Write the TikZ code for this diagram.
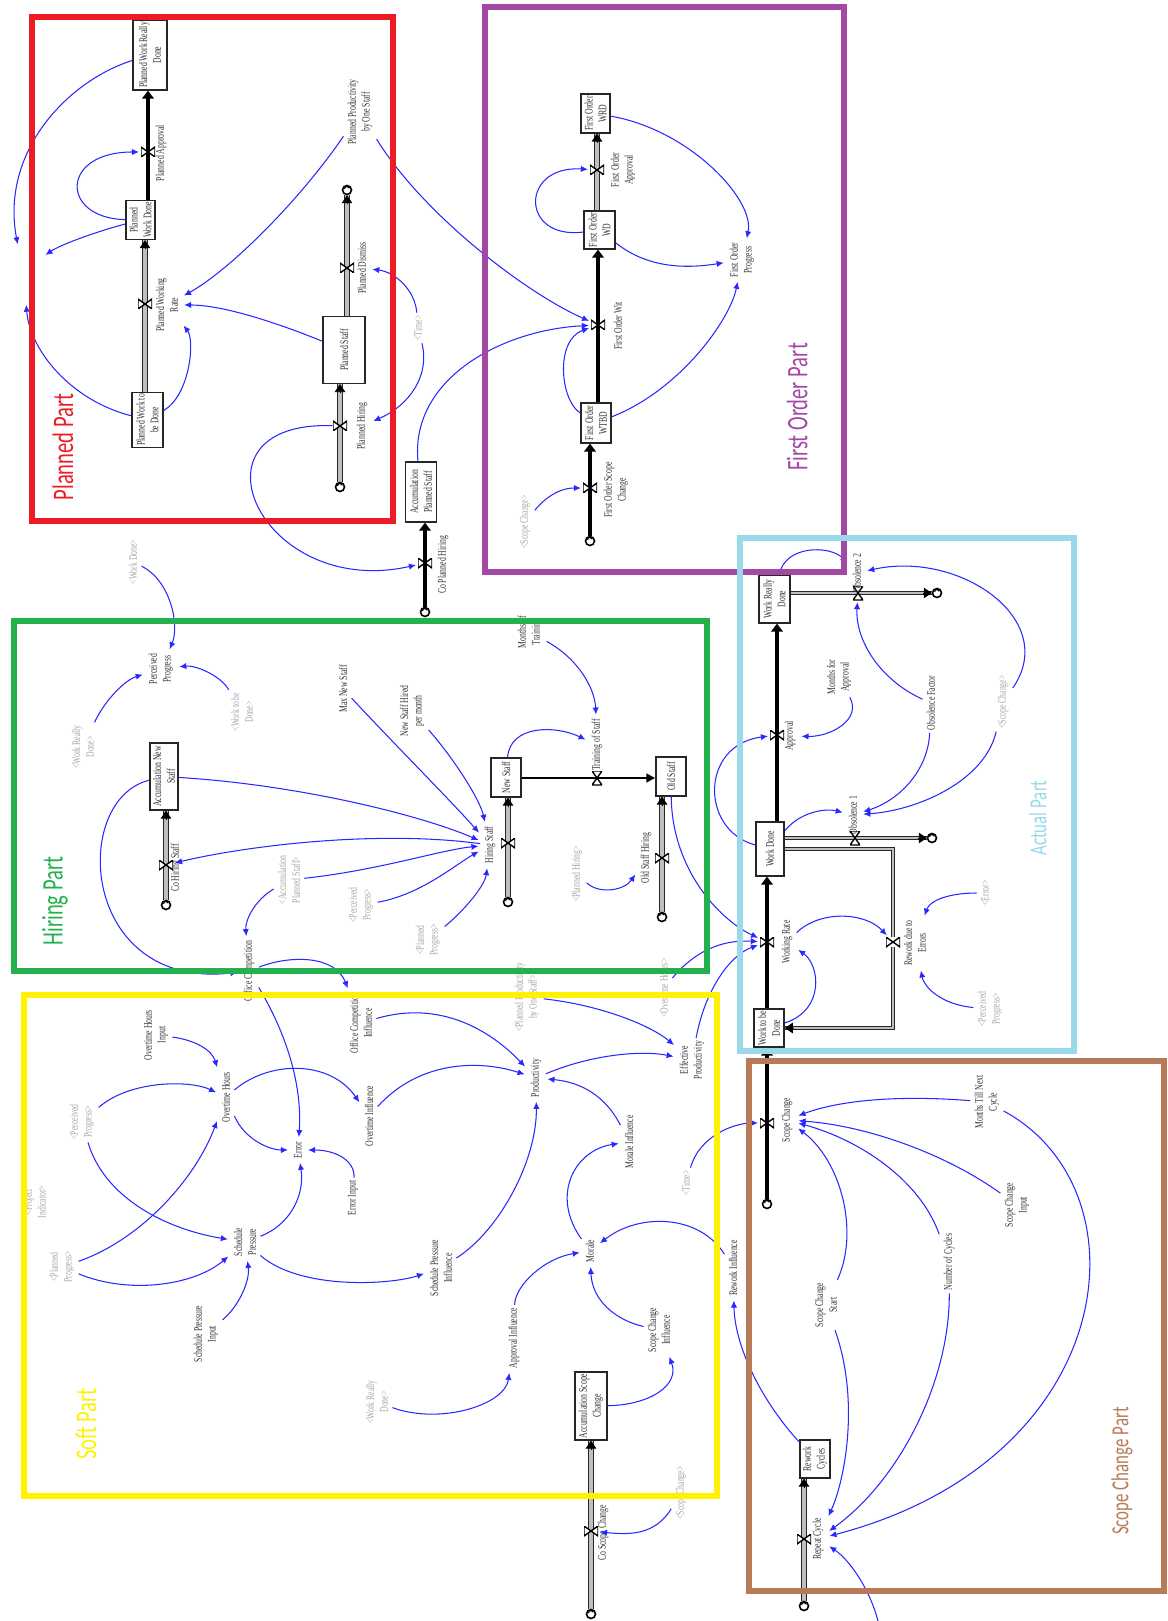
\documentclass[tikz,border=0pt]{standalone}
\usepackage{fontspec}
\setmainfont{Liberation Serif}
\newfontfamily\partfont{Carlito}
\usetikzlibrary{arrows.meta,calc,backgrounds}

\definecolor{cRed}{RGB}{237,28,36}
\definecolor{cPurple}{RGB}{163,73,164}
\definecolor{cCyan}{RGB}{153,217,234}
\definecolor{cGreen}{RGB}{34,177,76}
\definecolor{cYellow}{RGB}{255,242,0}
\definecolor{cBrown}{RGB}{185,122,87}
\definecolor{linkblue}{RGB}{40,40,255}

\tikzset{
  lbl/.style={rotate=90, yscale=1.5, align=center, inner sep=1.5pt, text=black!80,
    font=\fontsize{4.4}{5.2}\selectfont},
  shadow/.style={lbl, text=black!35},
  stock/.style={lbl, draw=black!85, line width=0.7pt, fill=white, inner sep=1pt},
  boxsz/.style 2 args={minimum width=#1*0.02cm, minimum height=#2*0.02cm/1.5},
  valve/.style={minimum width=14*0.02cm, minimum height=10*0.02cm, inner sep=0pt,
    path picture={\draw[black, line width=0.8pt, fill=white]
      (path picture bounding box.south west) -- (path picture bounding box.north east)
      -- (path picture bounding box.south east) -- (path picture bounding box.north west) -- cycle;}},
  hvalve/.style={minimum width=10*0.02cm, minimum height=14*0.02cm, inner sep=0pt,
    path picture={\draw[black, line width=0.8pt, fill=white]
      (path picture bounding box.south west) -- (path picture bounding box.north east)
      -- (path picture bounding box.north west) -- (path picture bounding box.south east) -- cycle;}},
  cloudsym/.style={circle, draw=black, line width=0.9pt, fill=white, minimum size=9*0.02cm, inner sep=0pt,
    path picture={\draw[black, line width=0.6pt]
      (path picture bounding box.center) ++(-0.05cm,0.02cm) arc (180:20:0.05cm);}},
  gpipe/.style={draw=black!85, line width=0.8pt, double=gray!50, double distance=2.2pt},
  hpipe/.style={draw=black!85, line width=0.6pt, double=gray!50, double distance=1.5pt},
  bpipe/.style={draw=black, line width=2.4pt, -{Triangle[width=6.5pt,length=4.5pt]}},
  hbpipe/.style={draw=black, line width=1.6pt, -{Triangle[width=5pt,length=5pt]}},
  ftip/.style={draw=black, line width=0.4pt, -{Triangle[width=6pt,length=4.5pt]}},
  link/.style={draw=linkblue, line width=0.6pt, shorten >=1pt, -{Latex[length=4pt,width=3.6pt]}},
  grp/.style={line width=6*0.02cm},
  part/.style={rotate=90, yscale=1.45, inner sep=0pt, font=\partfont\fontsize{#1}{14}\selectfont},
  part/.default=11.7
}

\begin{document}
\begin{tikzpicture}[x=0.02cm, y=-0.02cm]
\useasboundingbox (0,0) rectangle (1167,1621);

% Planned Part
\node[stock, boxsz={70}{34}] (pwrd) at (150,55) {Planned Work Really\\Done};
\node[stock, boxsz={38}{29}] (pwd) at (140.5,220) {Planned\\Work Done};
\node[stock, boxsz={55}{31}] (pwtbd) at (147.5,420) {Planned Work to\\be Done};
\node[stock, boxsz={67}{42}] (pstaff) at (344,350) {Planned Staff};
\node[stock, boxsz={60}{31}] (aps) at (421,492) {Accumulation\\Planned Staff};
\node[valve] (vpa) at (148,152) {};
\node[valve] (vpwr) at (145,304) {};
\node[valve] (vpd) at (347,268) {};
\node[valve] (vph) at (340,426) {};
\node[valve] (vcph) at (425,563) {};
\node[cloudsym] (cpd) at (347,190) {};
\node[cloudsym] (cph) at (340,487) {};
\node[cloudsym] (ccph) at (425,612) {};
\node[lbl] (lpa) at (161,153) {Planned Approval};
\node[lbl] (lpwr) at (167,305) {Planned Working\\Rate};
\node[lbl] (lpd) at (362,268) {Planned Dismiss};
\node[lbl] (lph) at (362,426) {Planned Hiring};
\node[lbl] (lcph) at (443,565) {Co Planned Hiring};
\node[lbl] (ppos) at (360,112) {Planned Productivity\\by One Staff};
\node[shadow] (stime1) at (418,328) {<Time>};
\coordinate (hidA) at (18,246);
\coordinate (hidB) at (44,256);
\coordinate (hidC) at (26,303);

% First Order Part
\node[stock, boxsz={39}{29}] (fowrd) at (595.5,113.5) {First Order\\WRD};
\node[stock, boxsz={38}{31}] (fowd) at (599.5,230) {First Order\\WD};
\node[stock, boxsz={40}{30}] (fowtbd) at (596,423) {First Order\\WTBD};
\node[valve] (vfoa) at (597,170) {};
\node[valve] (vfow) at (598,325) {};
\node[valve] (vfosc) at (590,488) {};
\node[cloudsym] (cfosc) at (590,541) {};
\node[lbl] (lfoa) at (623,170) {First Order\\Approval};
\node[lbl] (lfow) at (618,326) {First Order Wit};
\node[lbl] (lfosc) at (616,490) {First Order Scope\\Change};
\node[lbl] (fop) at (742,260) {First Order\\Progress};
\node[shadow] (ssc1) at (525,522) {<Scope Change>};

% Hiring Part
\node[stock, boxsz={67}{28}] (ans) at (164,776.5) {Accumulation New\\Staff};
\node[stock, boxsz={39}{30}] (nstaff) at (506,777.5) {New Staff};
\node[stock, boxsz={39}{30}] (ostaff) at (671,776.5) {Old Staff};
\node[valve] (vchs) at (166,865) {};
\node[valve] (vhs) at (508,843) {};
\node[hvalve] (vts) at (597,778) {};
\node[valve] (vosh) at (662,858) {};
\node[cloudsym] (cchs) at (166,905) {};
\node[cloudsym] (chs) at (508,902) {};
\node[cloudsym] (cosh) at (662,917) {};
\node[lbl] (lchs) at (176,868) {Co Hiring Staff};
\node[lbl] (lhs) at (490,845) {Hiring Staff};
\node[lbl] (lts) at (597,745) {Training of Staff};
\node[lbl] (losh) at (646,858) {Old Staff Hiring};
\node[lbl] (pprog) at (161,669) {Perceived\\Progress};
\node[lbl] (mns) at (343,689) {Max New Staff};
\node[lbl] (nshm) at (412,711) {New Staff Hired\\per month};
\node[lbl] (mot) at (530,632) {Months of\\Training};
\node[shadow] (swd) at (133,562) {<Work Done>};
\node[shadow] (swrd1) at (83,747) {<Work Really\\Done>};
\node[shadow] (swtbd) at (242,712) {<Work to be\\Done>};
\node[shadow] (saps) at (289,880) {<Accumulation\\Planned Staff>};
\node[shadow] (spp1) at (361,905) {<Perceived\\Progress>};
\node[shadow] (splp1) at (428,940) {<Planned\\Progress>};
\node[shadow] (sph) at (577,874) {<Planned Hiring>};

% Actual Part
\node[stock, boxsz={48}{31}] (wrd) at (774.5,599) {Work Really\\Done};
\node[stock, boxsz={54}{28}] (wdone) at (770,849) {Work Done};
\node[stock, boxsz={38}{30}] (wtbd) at (769,1028) {Work to be\\Done};
\node[hvalve] (vob2) at (858,593) {};
\node[valve] (vappr) at (777,735) {};
\node[hvalve] (vob1) at (855,838) {};
\node[valve] (vrde) at (893,942) {};
\node[valve] (vwr) at (767,942) {};
\node[valve] (vsc) at (767,1123) {};
\node[cloudsym] (cob2) at (937,593) {};
\node[cloudsym] (cob1) at (932,838) {};
\node[cloudsym] (csc) at (767,1204) {};
\node[lbl] (lob2) at (857,573) {Obsolence 2};
\node[lbl] (lappr) at (790,736) {Approval};
\node[lbl] (lob1) at (853,815) {Obsolence 1};
\node[lbl] (lrde) at (915,943) {Rework due to\\Errors};
\node[lbl] (lwr) at (787,942) {Working Rate};
\node[lbl] (lsc) at (787,1120) {Scope Change};
\node[lbl] (mfa) at (839,677) {Months for\\Approval};
\node[lbl] (obf) at (931,703) {Obsolence Factor};
\node[shadow] (ssc2) at (1003,702) {<Scope Change>};
\node[shadow] (serr) at (985,893) {<Error>};
\node[shadow] (spp2) at (990,1009) {<Perceived\\Progress>};

% Soft Part
\node[lbl] (oc) at (249,971) {Office Competition};
\node[lbl] (oci) at (361,1023) {Office Competition\\Influence};
\node[lbl] (ohi) at (156,1035) {Overtime Hours\\Input};
\node[lbl] (oh) at (226,1097) {Overtime Hours};
\node[lbl] (oi) at (369,1116) {Overtime Influence};
\node[lbl] (err) at (298,1150) {Error};
\node[lbl] (erri) at (353,1198) {Error Input};
\node[lbl] (sp) at (245,1242) {Schedule\\Pressure};
\node[lbl] (spi) at (206,1334) {Schedule Pressure\\Input};
\node[lbl] (spinf) at (441,1268) {Schedule Pressure\\Influence};
\node[lbl] (prod) at (536,1078) {Productivity};
\node[lbl] (eprod) at (692,1060) {Effective\\Productivity};
\node[lbl] (minf) at (629,1142) {Morale Influence};
\node[lbl] (mor) at (590,1251) {Morale};
\node[lbl] (ainf) at (514,1338) {Approval Influence};
\node[lbl] (scinf) at (659,1330) {Scope Change\\Influence};
\node[lbl] (rinf) at (733,1268) {Rework Influence};
\node[stock, boxsz={66}{32}] (asc) at (591,1406) {Accumulation Scope\\Change};
\node[valve] (vcsc) at (591,1531) {};
\node[cloudsym] (ccsc) at (591,1614) {};
\node[lbl] (lcsc) at (603,1533) {Co Scope Change};
\node[shadow] (soh) at (664,988) {<Overtime Hours>};
\node[shadow] (sppos) at (527,997) {<Planned Productivity\\by One Staff>};
\node[shadow] (spp3) at (82,1122) {<Perceived\\Progress>};
\node[shadow] (sind) at (35,1202) {<Project\\Indicator>};
\node[shadow] (splp2) at (62,1267) {<Planned\\Progress>};
\node[shadow] (stime2) at (686,1183) {<Time>};
\node[shadow] (swrd2) at (377,1402) {<Work Really\\Done>};
\node[shadow] (ssc3) at (681,1493) {<Scope Change>};

% Scope Change Part
\node[stock, boxsz={38}{30}] (rcyc) at (815,1459) {Rework\\Cycles};
\node[valve] (vrep) at (804,1539) {};
\node[cloudsym] (crep) at (804,1606) {};
\node[lbl] (lrep) at (818,1539) {Repeat Cycle};
\node[lbl] (mtnc) at (987,1102) {Months Till Next\\Cycle};
\node[lbl] (sci) at (1017,1205) {Scope Change\\Input};
\node[lbl] (noc) at (949,1262) {Number of Cycles};
\node[lbl] (scs) at (826,1305) {Scope Change\\Start};
\coordinate (srcbot) at (878,1621);

% flows
\begin{scope}[on background layer]
\draw[bpipe] (vpa |- pwd.east) -- (vpa |- pwrd.west);
\draw[gpipe] (vpwr |- pwtbd.east) -- (vpwr |- pwd.west);
\draw[gpipe] (vpd |- pstaff.east) -- (vpd |- cpd.south);
\draw[gpipe] (vph |- cph.north) -- (vph |- pstaff.west);
\draw[bpipe] (vcph |- ccph.north) -- (vcph |- aps.west);
\draw[gpipe] (vfoa |- fowd.east) -- (vfoa |- fowrd.west);
\draw[bpipe] (vfow |- fowtbd.east) -- (vfow |- fowd.west);
\draw[bpipe] (vfosc |- cfosc.north) -- (vfosc |- fowtbd.west);
\draw[gpipe] (vchs |- cchs.north) -- (vchs |- ans.west);
\draw[gpipe] (vhs |- chs.north) -- (vhs |- nstaff.west);
\draw[hbpipe] (nstaff.south |- vts) -- (ostaff.north |- vts);
\draw[gpipe] (vosh |- cosh.north) -- (vosh |- ostaff.west);
\draw[hpipe] (wrd.south |- vob2) -- (cob2.west |- vob2);
\draw[bpipe] (vappr |- wdone.east) -- (vappr |- wrd.west);
\draw[hpipe] (wdone.south |- vob1) -- (cob1.west |- vob1);
\draw[hpipe] (wdone.south) -| (vrde) |- (wtbd.south);
\draw[bpipe] (vwr |- wtbd.east) -- (vwr |- wdone.west);
\draw[bpipe] (vsc |- csc.north) -- (vsc |- wtbd.west);
\draw[gpipe] (vrep |- crep.north) -- (vrep |- rcyc.west);
\draw[gpipe] (vcsc |- ccsc.north) -- (vcsc |- asc.west);
\end{scope}
\draw[ftip] ($(vpwr |- pwd.west)+(0,9)$) -- (vpwr |- pwd.west);
\draw[ftip] ($(vpd |- cpd.south)+(0,9)$) -- (vpd |- cpd.south);
\draw[ftip] ($(vph |- pstaff.west)+(0,9)$) -- (vph |- pstaff.west);
\draw[ftip] ($(vfoa |- fowrd.west)+(0,9)$) -- (vfoa |- fowrd.west);
\draw[ftip] ($(vchs |- ans.west)+(0,9)$) -- (vchs |- ans.west);
\draw[ftip] ($(vhs |- nstaff.west)+(0,9)$) -- (vhs |- nstaff.west);
\draw[ftip] ($(vosh |- ostaff.west)+(0,9)$) -- (vosh |- ostaff.west);
\draw[ftip] ($(cob2.west |- vob2)+(-9,0)$) -- (cob2.west |- vob2);
\draw[ftip] ($(cob1.west |- vob1)+(-9,0)$) -- (cob1.west |- vob1);
\draw[ftip] ($(wtbd.south)+(9,0)$) -- (wtbd.south);
\draw[ftip] ($(vrep |- rcyc.west)+(0,9)$) -- (vrep |- rcyc.west);
\draw[ftip] ($(vcsc |- asc.west)+(0,9)$) -- (vcsc |- asc.west);

% links, Planned Part
\draw[link] (pwrd) .. controls (70,80) and (0,150) .. (hidA);
\draw[link] (pwd) .. controls (95,232) and (60,245) .. (hidB);
\draw[link] (pwd) .. controls (60,218) and (60,152) .. (vpa);
\draw[link] (pwtbd) .. controls (70,400) and (30,350) .. (hidC);
\draw[link] (ppos) .. controls (300,200) and (230,270) .. (lpwr);
\draw[link] (pstaff) .. controls (270,320) and (220,305) .. (lpwr);
\draw[link] (pwtbd) .. controls (190,395) and (195,340) .. (lpwr);
\draw[link] (stime1) .. controls (415,290) and (395,272) .. (lpd);
\draw[link] (stime1) .. controls (430,375) and (410,405) .. (lph);
\draw[link] (vph) .. controls (180,420) and (260,600) .. (vcph);
\draw[link] (aps) .. controls (410,380) and (500,330) .. (vfow);
\draw[link] (ppos) .. controls (420,210) and (520,290) .. (vfow);

% links, First Order Part
\draw[link] (fowd) .. controls (520,240) and (520,165) .. (vfoa);
\draw[link] (fowrd) .. controls (690,130) and (755,200) .. (fop);
\draw[link] (fowd) .. controls (650,270) and (690,268) .. (fop);
\draw[link] (fowtbd) .. controls (680,390) and (730,320) .. (fop);
\draw[link] (fowtbd) .. controls (560,400) and (555,340) .. (vfow);
\draw[link] (ssc1) .. controls (550,492) and (565,488) .. (vfosc);

% links, Hiring Part
\draw[link] (swd) .. controls (170,580) and (180,625) .. (pprog);
\draw[link] (swrd1) .. controls (105,700) and (125,680) .. (pprog);
\draw[link] (swtbd) .. controls (220,675) and (195,665) .. (pprog);
\draw[link] (mns) .. controls (400,750) and (450,800) .. (lhs);
\draw[link] (nshm) .. controls (455,760) and (480,800) .. (lhs);
\draw[link] (ans) .. controls (300,785) and (420,815) .. (lhs);
\draw[link] (saps) .. controls (380,870) and (440,850) .. (lhs);
\draw[link] (spp1) .. controls (420,895) and (455,865) .. (lhs);
\draw[link] (splp1) .. controls (465,910) and (485,885) .. (lhs);
\draw[link] (lhs) .. controls (380,830) and (250,845) .. (vchs);
\draw[link] (ans) .. controls (70,800) and (80,990) .. (oc);
\draw[link] (saps) .. controls (255,900) and (245,920) .. (oc);
\draw[link] (nstaff) .. controls (510,725) and (555,725) .. (lts);
\draw[link] (mot) .. controls (580,660) and (595,690) .. (lts);
\draw[link] (sph) .. controls (600,895) and (625,890) .. (losh);
\draw[link] (ostaff) .. controls (672,870) and (720,920) .. (vwr);

% links, Actual Part
\draw[link] (wrd) .. controls (785,545) and (830,545) .. (lob2);
\draw[link] (ssc2) .. controls (1060,620) and (960,550) .. (lob2);
\draw[link] (ssc2) .. controls (985,780) and (920,810) .. (lob1);
\draw[link] (obf) .. controls (880,680) and (855,640) .. (vob2);
\draw[link] (obf) .. controls (928,770) and (900,800) .. (lob1);
\draw[link] (mfa) .. controls (862,720) and (830,737) .. (lappr);
\draw[link] (wdone) .. controls (700,830) and (700,745) .. (vappr);
\draw[link] (wdone) .. controls (800,812) and (825,808) .. (lob1);
\draw[link] (serr) .. controls (950,893) and (930,900) .. (lrde);
\draw[link] (spp2) .. controls (945,1005) and (925,990) .. (lrde);
\draw[link] (lwr) .. controls (820,910) and (865,912) .. (vrde);
\draw[link] (wtbd) .. controls (825,1010) and (820,965) .. (lwr);
\draw[link] (soh) .. controls (700,945) and (730,940) .. (vwr);
\draw[link] (eprod) .. controls (705,990) and (730,955) .. (vwr);

% links, Soft Part
\draw[link] (oc) .. controls (290,1040) and (302,1090) .. (err);
\draw[link] (oc) .. controls (290,955) and (335,955) .. (oci);
\draw[link] (oci) .. controls (440,1000) and (490,1030) .. (prod);
\draw[link] (ohi) .. controls (195,1040) and (212,1050) .. (oh);
\draw[link] (oh) .. controls (245,1140) and (270,1150) .. (err);
\draw[link] (oh) .. controls (270,1060) and (330,1060) .. (oi);
\draw[link] (oi) .. controls (420,1060) and (480,1060) .. (prod);
\draw[link] (erri) .. controls (355,1160) and (335,1150) .. (err);
\draw[link] (spp3) .. controls (130,1080) and (190,1080) .. (oh);
\draw[link] (spp3) .. controls (105,1200) and (170,1230) .. (sp);
\draw[link] (splp2) .. controls (140,1240) and (195,1180) .. (oh);
\draw[link] (splp2) .. controls (130,1295) and (195,1285) .. (sp);
\draw[link] (sp) .. controls (290,1225) and (305,1195) .. (err);
\draw[link] (sp) .. controls (300,1290) and (390,1285) .. (spinf);
\draw[link] (spi) .. controls (240,1305) and (250,1280) .. (sp);
\draw[link] (spinf) .. controls (500,1230) and (537,1160) .. (prod);
\draw[link] (mor) .. controls (550,1195) and (575,1150) .. (minf);
\draw[link] (minf) .. controls (605,1095) and (580,1082) .. (prod);
\draw[link] (prod) .. controls (590,1055) and (640,1050) .. (eprod);
\draw[link] (sppos) .. controls (600,1005) and (650,1025) .. (eprod);
\draw[link] (rinf) .. controls (700,1215) and (640,1212) .. (mor);
\draw[link] (swrd2) .. controls (440,1425) and (505,1405) .. (ainf);
\draw[link] (ainf) .. controls (515,1285) and (545,1258) .. (mor);
\draw[link] (asc) .. controls (650,1405) and (680,1385) .. (scinf);
\draw[link] (scinf) .. controls (615,1320) and (592,1300) .. (mor);
\draw[link] (ssc3) .. controls (655,1535) and (630,1535) .. (vcsc);
\draw[link] (stime2) .. controls (700,1135) and (735,1123) .. (vsc);

% links, Scope Change Part
\draw[link] (mtnc) .. controls (900,1095) and (840,1100) .. (lsc);
\draw[link] (mtnc) .. controls (1150,1190) and (1120,1460) .. (lrep);
\draw[link] (sci) .. controls (940,1150) and (860,1125) .. (lsc);
\draw[link] (noc) .. controls (920,1180) and (860,1140) .. (lsc);
\draw[link] (noc) .. controls (950,1380) and (900,1480) .. (lrep);
\draw[link] (scs) .. controls (860,1230) and (840,1160) .. (lsc);
\draw[link] (scs) .. controls (860,1400) and (845,1480) .. (lrep);
\draw[link] (srcbot) .. controls (870,1590) and (850,1560) .. (lrep);
\draw[link] (rcyc) .. controls (765,1405) and (735,1350) .. (rinf);

% group frames
\draw[grp, cRed] (31.5,17.5) rectangle (392.5,520.5);
\draw[grp, cPurple] (485,7.5) rectangle (843.5,571.5);
\draw[grp, cCyan] (740,537.5) rectangle (1073.5,1050.5);
\draw[grp, cGreen] (13.5,620.5) rectangle (706.5,970.5);
\draw[grp, cYellow] (23.5,994.5) rectangle (716.5,1495.5);
\draw[grp, cBrown] (748.5,1060.5) rectangle (1164,1590.5);
\node[part, text=cRed] (tplan) at (63,447) {Planned Part};
\node[part, text=cPurple] (tfirst) at (797,407) {First Order Part};
\node[part=9.6, text=cCyan] (tact) at (1038,818) {Actual Part};
\node[part, text=cGreen] (thire) at (55,901) {Hiring Part};
\node[part, text=cYellow] (tsoft) at (86,1424) {Soft Part};
\node[part=9.6, text=cBrown] (tscope) at (1122,1471) {Scope Change Part};
\end{tikzpicture}
\end{document}
